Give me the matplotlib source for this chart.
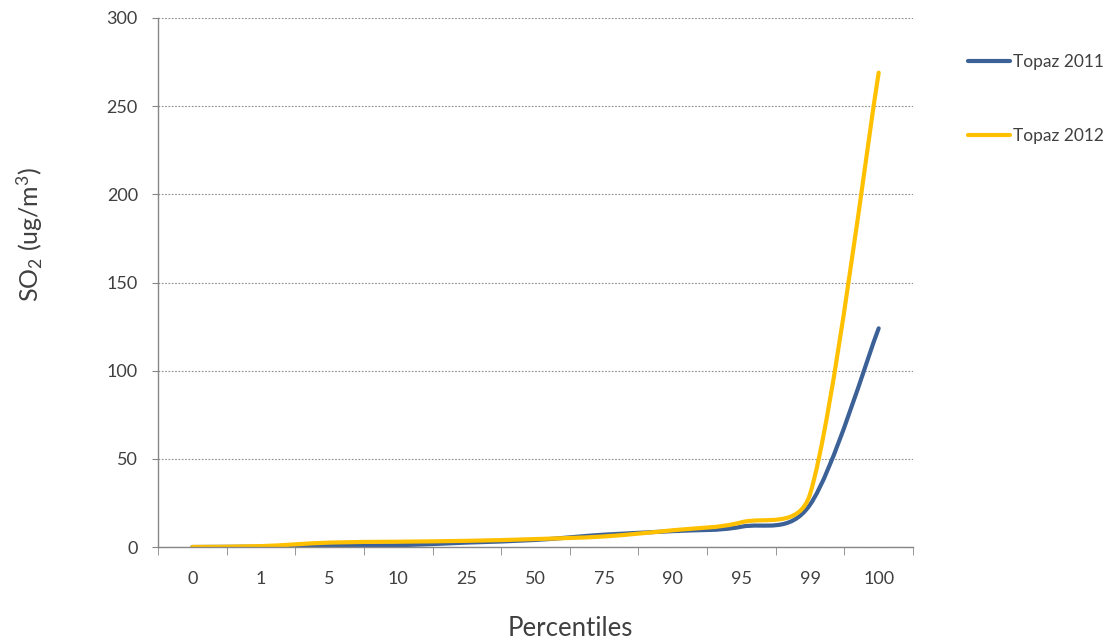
import numpy as np
import matplotlib
matplotlib.use('Agg')
import matplotlib.pyplot as plt
from matplotlib.path import Path
from matplotlib.patches import PathPatch
from matplotlib.lines import Line2D

plt.rcParams['font.family'] = ['Lato', 'DejaVu Sans']
plt.rcParams['mathtext.fontset'] = 'custom'
plt.rcParams['mathtext.rm'] = 'Lato'
plt.rcParams['mathtext.it'] = 'Lato'

# datos
percentiles = ['0', '1', '5', '10', '25', '50', '75', '90', '95', '99', '100']
topaz_2011 = [0, 0.2, 0.5, 1.0, 2.5, 4.0, 7.0, 9.0, 11.5, 24.0, 124.0]
topaz_2012 = [0, 0.5, 2.5, 3.0, 3.5, 4.5, 6.0, 9.5, 14.0, 30.0, 269.0]

color_2011 = '#3B6197'
color_2012 = '#FFC000'
gris_texto = '#404040'
gris_eje = '#878787'


def curva_suave(ax, xs, ys):
    # suavizado tipo Excel: Bezier con tension 1/6 limitada en pixeles
    p = ax.transData.transform(np.column_stack([xs, ys]).astype(float))
    n = len(p)
    verts = [p[0]]
    codes = [Path.MOVETO]
    for i in range(n - 1):
        p0 = p[i - 1] if i > 0 else p[i]
        p1 = p[i]
        p2 = p[i + 1]
        p3 = p[i + 2] if i + 2 < n else p[i + 1]
        d12 = np.hypot(*(p2 - p1))
        d02 = np.hypot(*(p2 - p0))
        d13 = np.hypot(*(p3 - p1))
        f1 = 1 / 6.0
        f2 = 1 / 6.0
        if d02 / 6.0 >= d12 / 2.0 and d02 > 0:
            f1 = d12 / d02 / 2.0
        if d13 / 6.0 >= d12 / 2.0 and d13 > 0:
            f2 = d12 / d13 / 2.0
        c1 = p1 + (p2 - p0) * f1
        c2 = p2 - (p3 - p1) * f2
        verts += [c1, c2, p2]
        codes += [Path.CURVE4] * 3
    verts = ax.transData.inverted().transform(np.array(verts))
    return Path(verts, codes)


fig = plt.figure(figsize=(11.1, 6.43), dpi=100)
ax = fig.add_axes([158 / 1110, 1 - 547 / 643, 755 / 1110, 529 / 643])

x = np.arange(len(percentiles))
ax.set_xlim(-0.5, len(percentiles) - 0.5)
ax.set_ylim(0, 300)

for serie, color in [(topaz_2011, color_2011), (topaz_2012, color_2012)]:
    patch = PathPatch(curva_suave(ax, x, serie), facecolor='none', edgecolor=color,
                      linewidth=3.0, capstyle='round', joinstyle='round')
    ax.add_patch(patch)

ax.set_yticks(np.arange(0, 301, 50))
ax.set_xticks(x)
ax.set_xticklabels(percentiles)
ax.set_xticks(np.arange(-0.5, len(percentiles), 1), minor=True)

ax.yaxis.grid(True, linestyle=(0, (1.5, 1.5)), color='#8c8c8c', linewidth=0.8)
ax.set_axisbelow(True)

for lado in ['top', 'right']:
    ax.spines[lado].set_visible(False)
for lado in ['left', 'bottom']:
    ax.spines[lado].set_color(gris_eje)
    ax.spines[lado].set_linewidth(1.0)

ax.tick_params(axis='y', which='major', length=4.5, color=gris_eje, labelsize=13,
               labelcolor=gris_texto, pad=10)
ax.tick_params(axis='x', which='major', length=0, labelsize=13,
               labelcolor=gris_texto, pad=17)
ax.tick_params(axis='x', which='minor', length=6, color=gris_eje)

fig.text(570 / 1110, 1 - 628 / 643, 'Percentiles', ha='center', va='center',
         fontsize=18.5, color=gris_texto)
fig.text(30 / 1110, 1 - 234 / 643, r'SO$_2$ (ug/m$^3$)', ha='center', va='center',
         rotation=90, fontsize=18, color=gris_texto)

handles = [Line2D([], [], color=color_2011, linewidth=3.0, solid_capstyle='round'),
           Line2D([], [], color=color_2012, linewidth=3.0, solid_capstyle='round')]
fig.legend(handles, ['Topaz 2011', 'Topaz 2012'], loc='upper left',
           bbox_to_anchor=(968 / 1110, 1 - 54 / 643), frameon=False,
           fontsize=12.5, handlelength=2.4, handletextpad=0.2, labelspacing=3.35,
           labelcolor=gris_texto, borderpad=0, borderaxespad=0)

fig.savefig('out.png', dpi=100)
